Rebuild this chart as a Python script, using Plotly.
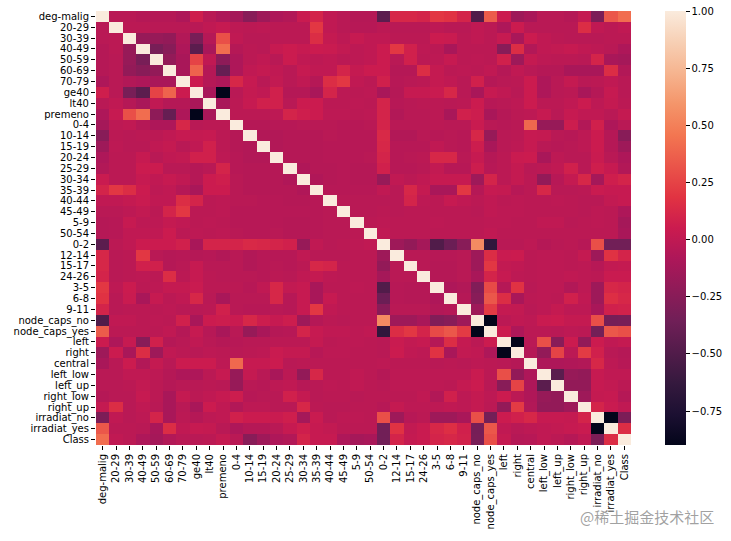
"""
Correlation heatmap of the one-hot encoded breast cancer features.
"""

import plotly.graph_objects as go

LABELS = [
    "deg-malig", "20-29", "30-39", "40-49", "50-59", "60-69", "70-79", "ge40", "lt40", "premeno",
    "0-4", "10-14", "15-19", "20-24", "25-29", "30-34", "35-39", "40-44", "45-49", "5-9",
    "50-54", "0-2", "12-14", "15-17", "24-26", "3-5", "6-8", "9-11", "node_caps_no", "node_caps_yes",
    "left", "right", "central", "left_low", "left_up", "right_low", "right_up", "irradiat_no", "irradiat_yes", "Class",
]

# upper triangle of the matrix, in hundredths
CORR_UPPER = [
    [-3, -3, -5, -5, -5, -8, 7, -3, -8, -12, -25, -15, -8, -6, 4, 10, 0, -3, -5, -5, -45, 12, 12, 10, 20, 18, 10, -50, 35, 5, -15, -10, -3, -3, -5, 2, -30, 33, 42],
    [-2, -2, -3, -3, -3, -3, 0, 3, -1, -2, -1, -2, -2, -2, 20, 0, -3, -4, -4, -2, -3, -3, -3, -1, -3, -3, 0, -2, -8, 5, -3, -3, -3, -3, 15, 0, -2, 0],
    [-18, -18, -20, -6, -32, -5, 30, 0, -3, -3, -2, -2, -2, 15, 2, -1, 3, 0, 0, -2, -2, -2, 5, 4, -2, 0, -2, 3, -10, 5, 0, -2, -3, -3, -3, -2, -2],
    [-32, -25, -8, -45, -10, 42, -5, -2, -3, 3, 5, 3, 5, 4, 1, -1, 0, 5, 20, 8, -1, -2, -10, -2, -2, -2, -25, 15, -6, 0, 1, 3, 0, -1, -3, -8],
    [-20, -10, 25, 0, -22, -8, -2, 0, -3, 5, 0, -1, 0, -2, -1, 0, 5, -3, 8, -2, -1, 3, -2, -1, -2, 8, -15, 2, -1, -2, -2, -3, 10, -10, -12],
    [-10, 38, -5, -40, -8, 0, 2, 0, -3, 3, 0, 0, 10, 2, 5, 5, -5, -5, 15, 2, -2, -1, -2, 0, -5, 0, -3, -5, -5, -10, -10, -10, 15, -6],
    [5, -5, -8, 12, 3, -3, 1, -3, 0, -5, 15, 20, 0, -2, 8, -4, -3, -2, 2, 0, -3, 8, -5, -3, -2, 5, -8, -3, 2, -3, -2, 0, -3],
    [-10, -90, -3, 2, 0, 8, -5, -5, -10, 10, -2, -2, -1, -10, -5, 3, 3, 4, 12, -3, -10, 3, 0, -3, 5, -8, -3, -2, -10, -5, 3, -3],
    [-10, -2, 3, 8, 8, -3, 5, 5, -2, -2, -1, -2, 10, -4, -3, -2, -2, -3, -2, 5, -4, -3, -1, 5, -2, -2, 0, 5, -1, 2, -2],
    [-2, -2, -2, -1, 10, 7, 5, -1, -1, -2, -1, 10, -6, -3, -3, -2, -10, 8, 6, -10, -5, -2, -1, 3, -3, 3, 0, 0, -3, 2],
    [-5, -5, -4, -4, -3, -3, -3, -4, -4, -3, 10, -3, -3, -3, -2, -3, -3, 4, -3, -4, -3, 40, -18, -18, 6, -6, 8, -8, -3],
    [-6, -6, -5, -5, -5, -3, -4, -4, -4, 13, -6, -6, -3, -4, -3, -4, 12, -18, -3, -2, 3, 2, -3, -4, -1, 5, -5, -25],
    [-6, -5, -5, -5, -4, -4, -4, -4, 12, -4, -4, -4, 0, -3, -4, 6, -10, -3, -1, 3, -3, -4, -3, -1, 5, -5, -15],
    [-5, -5, -5, -4, -4, -4, -3, 10, -4, -3, -2, 12, 12, -3, 3, -5, -2, 4, 5, -10, -1, -3, -3, 4, -3, -8],
    [-7, -5, -5, -4, -5, -5, 8, -4, -4, -3, 1, -4, -4, 6, -4, -2, 2, -3, -2, 0, 8, -3, 7, 3, -6],
    [-7, -5, -4, -5, -5, -18, 0, -2, 0, 3, 3, 3, -15, 10, -2, 2, -2, -20, -4, 2, 12, -12, 7, 10],
    [-4, -4, -4, -4, 0, -3, 12, 2, -10, -10, 20, -5, 3, 2, -4, -2, 12, -3, -3, -2, 4, 3, 3],
    [-3, -3, -3, -3, -3, 10, -1, -2, 3, 0, -2, 0, -2, -1, -2, -2, -1, -2, -3, -3, 1, 3],
    [-3, -3, -2, -3, -2, -2, -2, -2, -2, -3, 0, -1, -1, -2, -2, -2, -2, -3, -1, -2, -8],
    [-2, -1, -2, -2, -2, -1, -2, -2, -2, -1, -1, -2, -2, 0, 0, -3, -2, -1, -2, -12],
    [0, -2, -2, -2, -2, -2, -2, -2, 0, -2, -2, -2, -2, -2, -2, -2, -2, -2, -10],
    [-15, -20, -12, -50, -38, -25, 55, -65, -3, -3, -1, -5, -3, -2, -4, 30, -35, -35],
    [-3, -3, -4, -4, -3, -15, 15, 4, 5, -2, -1, -1, -2, 2, -15, 18, 10],
    [-3, -5, -5, -3, -15, 20, 1, 0, -2, -1, -1, -2, -1, -4, 1, 2],
    [-5, -5, -3, -10, 10, 3, -1, -2, -1, -1, 0, -1, -2, 4, 4],
    [-8, -6, -28, 28, -5, 18, -3, -1, -1, -6, -1, -15, 12, 10],
    [-5, -25, 33, 15, -10, -2, -1, -2, 8, 0, -15, 16, 12],
    [-15, 22, 2, 1, -3, -1, 2, -1, -1, -10, 8, 9],
    [-90, -2, 0, -1, 4, 5, 2, 2, 30, -33, -32],
    [5, -8, -2, -2, -3, -1, -2, -34, 33, 30],
    [-90, -3, 30, -25, 5, -20, 5, 0, 2],
    [-5, -20, 25, -2, 22, 8, -3, -5],
    [-8, -8, -7, -6, 12, -1, -4],
    [-45, -18, -20, 3, 0, 0],
    [-20, -20, 3, 1, -2],
    [-15, 2, 3, -5],
    [10, 4, 0],
    [-90, -30],
    [15],
    [],
]

CBAR_TICKS = [-0.75, -0.5, -0.25, 0.0, 0.25, 0.5, 0.75, 1.0]

# seaborn "rocket"
ROCKET = [
    [0.0, "#03051a"], [0.071, "#1c1032"], [0.143, "#35193e"], [0.286, "#701f57"], [0.429, "#ad1759"],
    [0.5, "#cb1b4f"], [0.571, "#e13342"], [0.714, "#f37651"], [0.786, "#f4956a"], [0.857, "#f6b48f"],
    [0.93, "#f7d0b5"], [1.0, "#faebdd"],
]

n = len(LABELS)
corr = [[1.0] * n for _ in range(n)]
for i, row in enumerate(CORR_UPPER):
    for k, v in enumerate(row):
        corr[i][i + k + 1] = v / 100
        corr[i + k + 1][i] = v / 100

fig = go.Figure(go.Heatmap(
    z=corr, x=LABELS, y=LABELS,
    colorscale=ROCKET, zmin=-0.898, zmax=1.0,
    colorbar=dict(
        x=1.0636, xanchor="left", xpad=0, y=0.5, ypad=0, len=1, thickness=21,
        outlinewidth=0, tickmode="array", tickvals=CBAR_TICKS,
        ticktext=[f"{t:.2f}".replace("-", "\u2212") for t in CBAR_TICKS],
        ticks="outside", ticklen=4, tickcolor="#000000", tickwidth=1,
        tickfont=dict(family="DejaVu Sans", size=10, color="#000000"),
    ),
))

axis_style = dict(
    type="category", tickmode="array", tickvals=LABELS, ticktext=LABELS,
    ticks="outside", ticklen=4, tickwidth=1, tickcolor="#000000",
    tickfont=dict(family="DejaVu Sans", size=10, color="#000000"),
    showgrid=False, zeroline=False, showline=False, automargin=False,
)

fig.update_layout(
    width=731, height=541,
    margin=dict(l=96, r=100, t=11, b=96, autoexpand=False),
    paper_bgcolor="#ffffff", plot_bgcolor="#ffffff",
    xaxis=dict(**axis_style, tickangle=-90),
    yaxis=dict(**axis_style, autorange="reversed"),
    annotations=[dict(
        x=(716 - 96) / 535, y=-(516 - 445) / 434, xref="paper", yref="paper", showarrow=False,
        text="@稀土掘金技术社区", xanchor="right", yanchor="middle",
        font=dict(family="Noto Sans CJK SC", size=15, color="rgba(130,130,130,0.75)"),
    )],
)

fig.write_html("out.html", post_script="document.body.style.margin='0';", config={"displayModeBar": False})
